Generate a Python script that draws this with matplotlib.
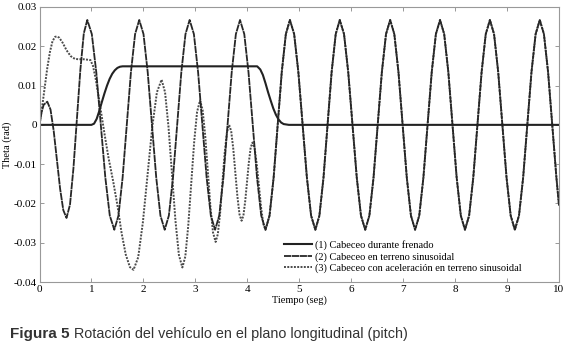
import matplotlib
matplotlib.use('Agg')
import matplotlib.pyplot as plt

# (1) pitch while braking
t1 = [0.0, 1.0, 1.05, 1.10, 1.15, 1.20, 1.25, 1.30, 1.35, 1.40, 1.45, 1.50, 1.55, 1.60,
      4.19, 4.25, 4.30, 4.35, 4.40, 4.45, 4.50, 4.55, 4.60, 4.65, 4.70, 4.80, 10.0]
v1 = [0, 0, 0.0003, 0.0015, 0.0035, 0.0058, 0.0080, 0.0100, 0.0117, 0.0130, 0.0139, 0.0145, 0.0148, 0.0149,
      0.0149, 0.0141, 0.0127, 0.0106, 0.0083, 0.0062, 0.0042, 0.0026, 0.0014, 0.0006, 0.0002, 0.0, 0.0]

# (2) pitch on sinusoidal terrain
t2 = [0.00, 0.04, 0.08, 0.15,
      0.212, 0.273, 0.335, 0.397, 0.458, 0.52,
      0.587, 0.653, 0.72, 0.787, 0.853, 0.92,
      1.007, 1.093, 1.18, 1.267, 1.353, 1.44,
      1.52, 1.60, 1.68, 1.76, 1.84, 1.92,
      2.002, 2.083, 2.165, 2.247, 2.328, 2.41,
      2.49, 2.57, 2.65, 2.73, 2.81, 2.89,
      2.972, 3.053, 3.135, 3.217, 3.298, 3.38,
      3.46, 3.54, 3.62, 3.70, 3.78, 3.86,
      3.942, 4.023, 4.105, 4.187, 4.268, 4.35,
      4.428, 4.507, 4.585, 4.663, 4.742, 4.82,
      4.902, 4.983, 5.065, 5.147, 5.228, 5.31,
      5.388, 5.467, 5.545, 5.623, 5.702, 5.78,
      5.862, 5.943, 6.025, 6.107, 6.188, 6.27,
      6.35, 6.43, 6.51, 6.59, 6.67, 6.75,
      6.83, 6.91, 6.99, 7.07, 7.15, 7.23,
      7.31, 7.39, 7.47, 7.55, 7.63, 7.71,
      7.79, 7.87, 7.95, 8.03, 8.11, 8.19,
      8.27, 8.35, 8.43, 8.51, 8.59, 8.67,
      8.75, 8.83, 8.91, 8.99, 9.07, 9.15,
      9.23, 9.31, 9.39, 9.47, 9.55, 9.63,
      9.71, 9.79, 9.87, 9.95, 10.0]
v2 = [0, 0.0032, 0.0051, 0.0059,
      0.0039, -0.0015, -0.0089, -0.0163, -0.0217, -0.0237,
      -0.0203, -0.0111, 0.0015, 0.0141, 0.0233, 0.0267,
      0.0231, 0.0134, 0, -0.0134, -0.0231, -0.0267,
      -0.0231, -0.0134, 0, 0.0134, 0.0231, 0.0267,
      0.0231, 0.0134, 0, -0.0134, -0.0231, -0.0267,
      -0.0231, -0.0134, 0, 0.0134, 0.0231, 0.0267,
      0.0231, 0.0134, 0, -0.0134, -0.0231, -0.0267,
      -0.0231, -0.0134, 0, 0.0134, 0.0231, 0.0267,
      0.0231, 0.0134, 0, -0.0134, -0.0231, -0.0267,
      -0.0231, -0.0134, 0, 0.0134, 0.0231, 0.0267,
      0.0231, 0.0134, 0, -0.0134, -0.0231, -0.0267,
      -0.0231, -0.0134, 0, 0.0134, 0.0231, 0.0267,
      0.0231, 0.0134, 0, -0.0134, -0.0231, -0.0267,
      -0.0231, -0.0134, 0, 0.0134, 0.0231, 0.0267,
      0.0231, 0.0134, 0, -0.0134, -0.0231, -0.0267,
      -0.0231, -0.0134, 0, 0.0134, 0.0231, 0.0267,
      0.0231, 0.0134, 0, -0.0134, -0.0231, -0.0267,
      -0.0231, -0.0134, 0, 0.0134, 0.0231, 0.0267,
      0.0231, 0.0134, 0, -0.0134, -0.0231, -0.0267,
      -0.0231, -0.0134, 0, 0.0134, 0.0231, 0.0267,
      0.0231, 0.0134, 0, -0.0134, -0.0205]

# (3) pitch with acceleration on sinusoidal terrain (joins curve 2 after 4.35 s)
t3 = [0.00, 0.05, 0.10, 0.15, 0.20, 0.25, 0.30, 0.33, 0.38, 0.45, 0.52, 0.60, 0.68, 0.75, 0.85, 0.92, 0.98,
      1.03, 1.08, 1.14, 1.20, 1.26, 1.33, 1.42, 1.50, 1.58, 1.66, 1.74, 1.81,
      1.90, 1.99, 2.08, 2.17, 2.26, 2.35,
      2.417, 2.483, 2.55, 2.617, 2.683, 2.75,
      2.807, 2.863, 2.92, 2.977, 3.033, 3.09,
      3.14, 3.19, 3.24, 3.29, 3.34, 3.39,
      3.433, 3.477, 3.52, 3.563, 3.607, 3.65,
      3.69, 3.73, 3.77, 3.81, 3.85, 3.89,
      3.925, 3.96, 3.995, 4.03, 4.065, 4.10,
      4.142, 4.183, 4.225, 4.267, 4.308, 4.35]
v3 = [0, 0.0045, 0.0095, 0.0145, 0.0185, 0.0213, 0.0224, 0.0225, 0.0222, 0.0208, 0.0190, 0.0175, 0.0168, 0.0167, 0.0167, 0.0166, 0.0165,
      0.0150, 0.0118, 0.0070, 0.0020, -0.0030, -0.0085, -0.0145, -0.0205, -0.0275, -0.0330, -0.0362, -0.0369,
      -0.0337, -0.0248, -0.0127, -0.0006, 0.0083, 0.0115,
      0.0083, -0.0005, -0.0124, -0.0244, -0.0331, -0.0363,
      -0.0335, -0.0257, -0.0151, -0.0044, 0.0033, 0.0062,
      0.0038, -0.0028, -0.0118, -0.0208, -0.0274, -0.0298,
      -0.0278, -0.0224, -0.0149, -0.0074, -0.0020, 0.0,
      -0.0016, -0.0061, -0.0122, -0.0183, -0.0228, -0.0244,
      -0.0231, -0.0194, -0.0145, -0.0095, -0.0058, -0.0045,
      -0.0060, -0.0101, -0.0156, -0.0212, -0.0252, -0.0267]

labels = ['(1) Cabeceo durante frenado',
          '(2) Cabeceo en terreno sinusoidal',
          '(3) Cabeceo con aceleración en terreno sinusoidal']
xticks = [0, 1, 2, 3, 4, 5, 6, 7, 8, 9, 10]
yticks = [-0.04, -0.03, -0.02, -0.01, 0, 0.01, 0.02, 0.03]
ytick_labels = ['-0.04', '-0.03', '-0.02', '-0.01', '0', '0.01', '0.02', '0.03']

tail = [i for i, t in enumerate(t2) if t > 4.35]
t3_full = t3 + [t2[i] for i in tail]
v3_full = v3 + [v2[i] for i in tail]

serif = ['Liberation Serif', 'DejaVu Serif']

fig = plt.figure(figsize=(5.67, 3.48), dpi=100)
ax = fig.add_axes([39.5 / 567, 1 - 282 / 348, (559 - 39.5) / 567, (282 - 7) / 348])

l3, = ax.plot(t3_full, v3_full, color='#4a4a4a', lw=1.4, linestyle=(0, (1, 0.7)))
l2, = ax.plot(t2, v2, color='#262626', lw=1.3, linestyle=(0, (4, 0.35)))
l1, = ax.plot(t1, v1, color='#222222', lw=1.5)

ax.set_xlim(0, 10)
ax.set_ylim(-0.04, 0.03)
ax.set_xticks(xticks)
ax.set_xticklabels([str(x) for x in xticks], family=serif, fontsize=8)
ax.set_yticks(yticks)
ax.set_yticklabels(ytick_labels, family=serif, fontsize=8)
ax.tick_params(direction='in', length=3, width=0.6, color='#888888',
               top=True, right=True, pad=2)
for s in ax.spines.values():
    s.set_color('#999999')
    s.set_linewidth(0.8)

ax.set_xlabel('Tiempo (seg)', family=serif, fontsize=7.5, labelpad=1)
ax.set_ylabel('Theta (rad)', family=serif, fontsize=7.5, labelpad=1)

ax.legend([l1, l2, l3], labels, loc='upper left', frameon=False,
          bbox_to_anchor=(284 / 567, 1 - 240 / 348), bbox_transform=fig.transFigure,
          prop={'family': serif, 'size': 7.5}, handlelength=2.7, handletextpad=0.3,
          labelspacing=0.2, borderpad=0, borderaxespad=0)

sans = ['Liberation Sans', 'DejaVu Sans']
cap1 = fig.text(10 / 567, 1 - 338 / 348, 'Figura 5', family=sans, fontsize=11,
                fontweight='bold', color='#333333')
fig.canvas.draw()
bb = cap1.get_window_extent()
fig.text((bb.x1 + 4) / 567, 1 - 338 / 348,
         'Rotación del vehículo en el plano longitudinal (pitch)',
         family=sans, fontsize=10.4, color='#333333')

fig.savefig('out.png', dpi=100)
